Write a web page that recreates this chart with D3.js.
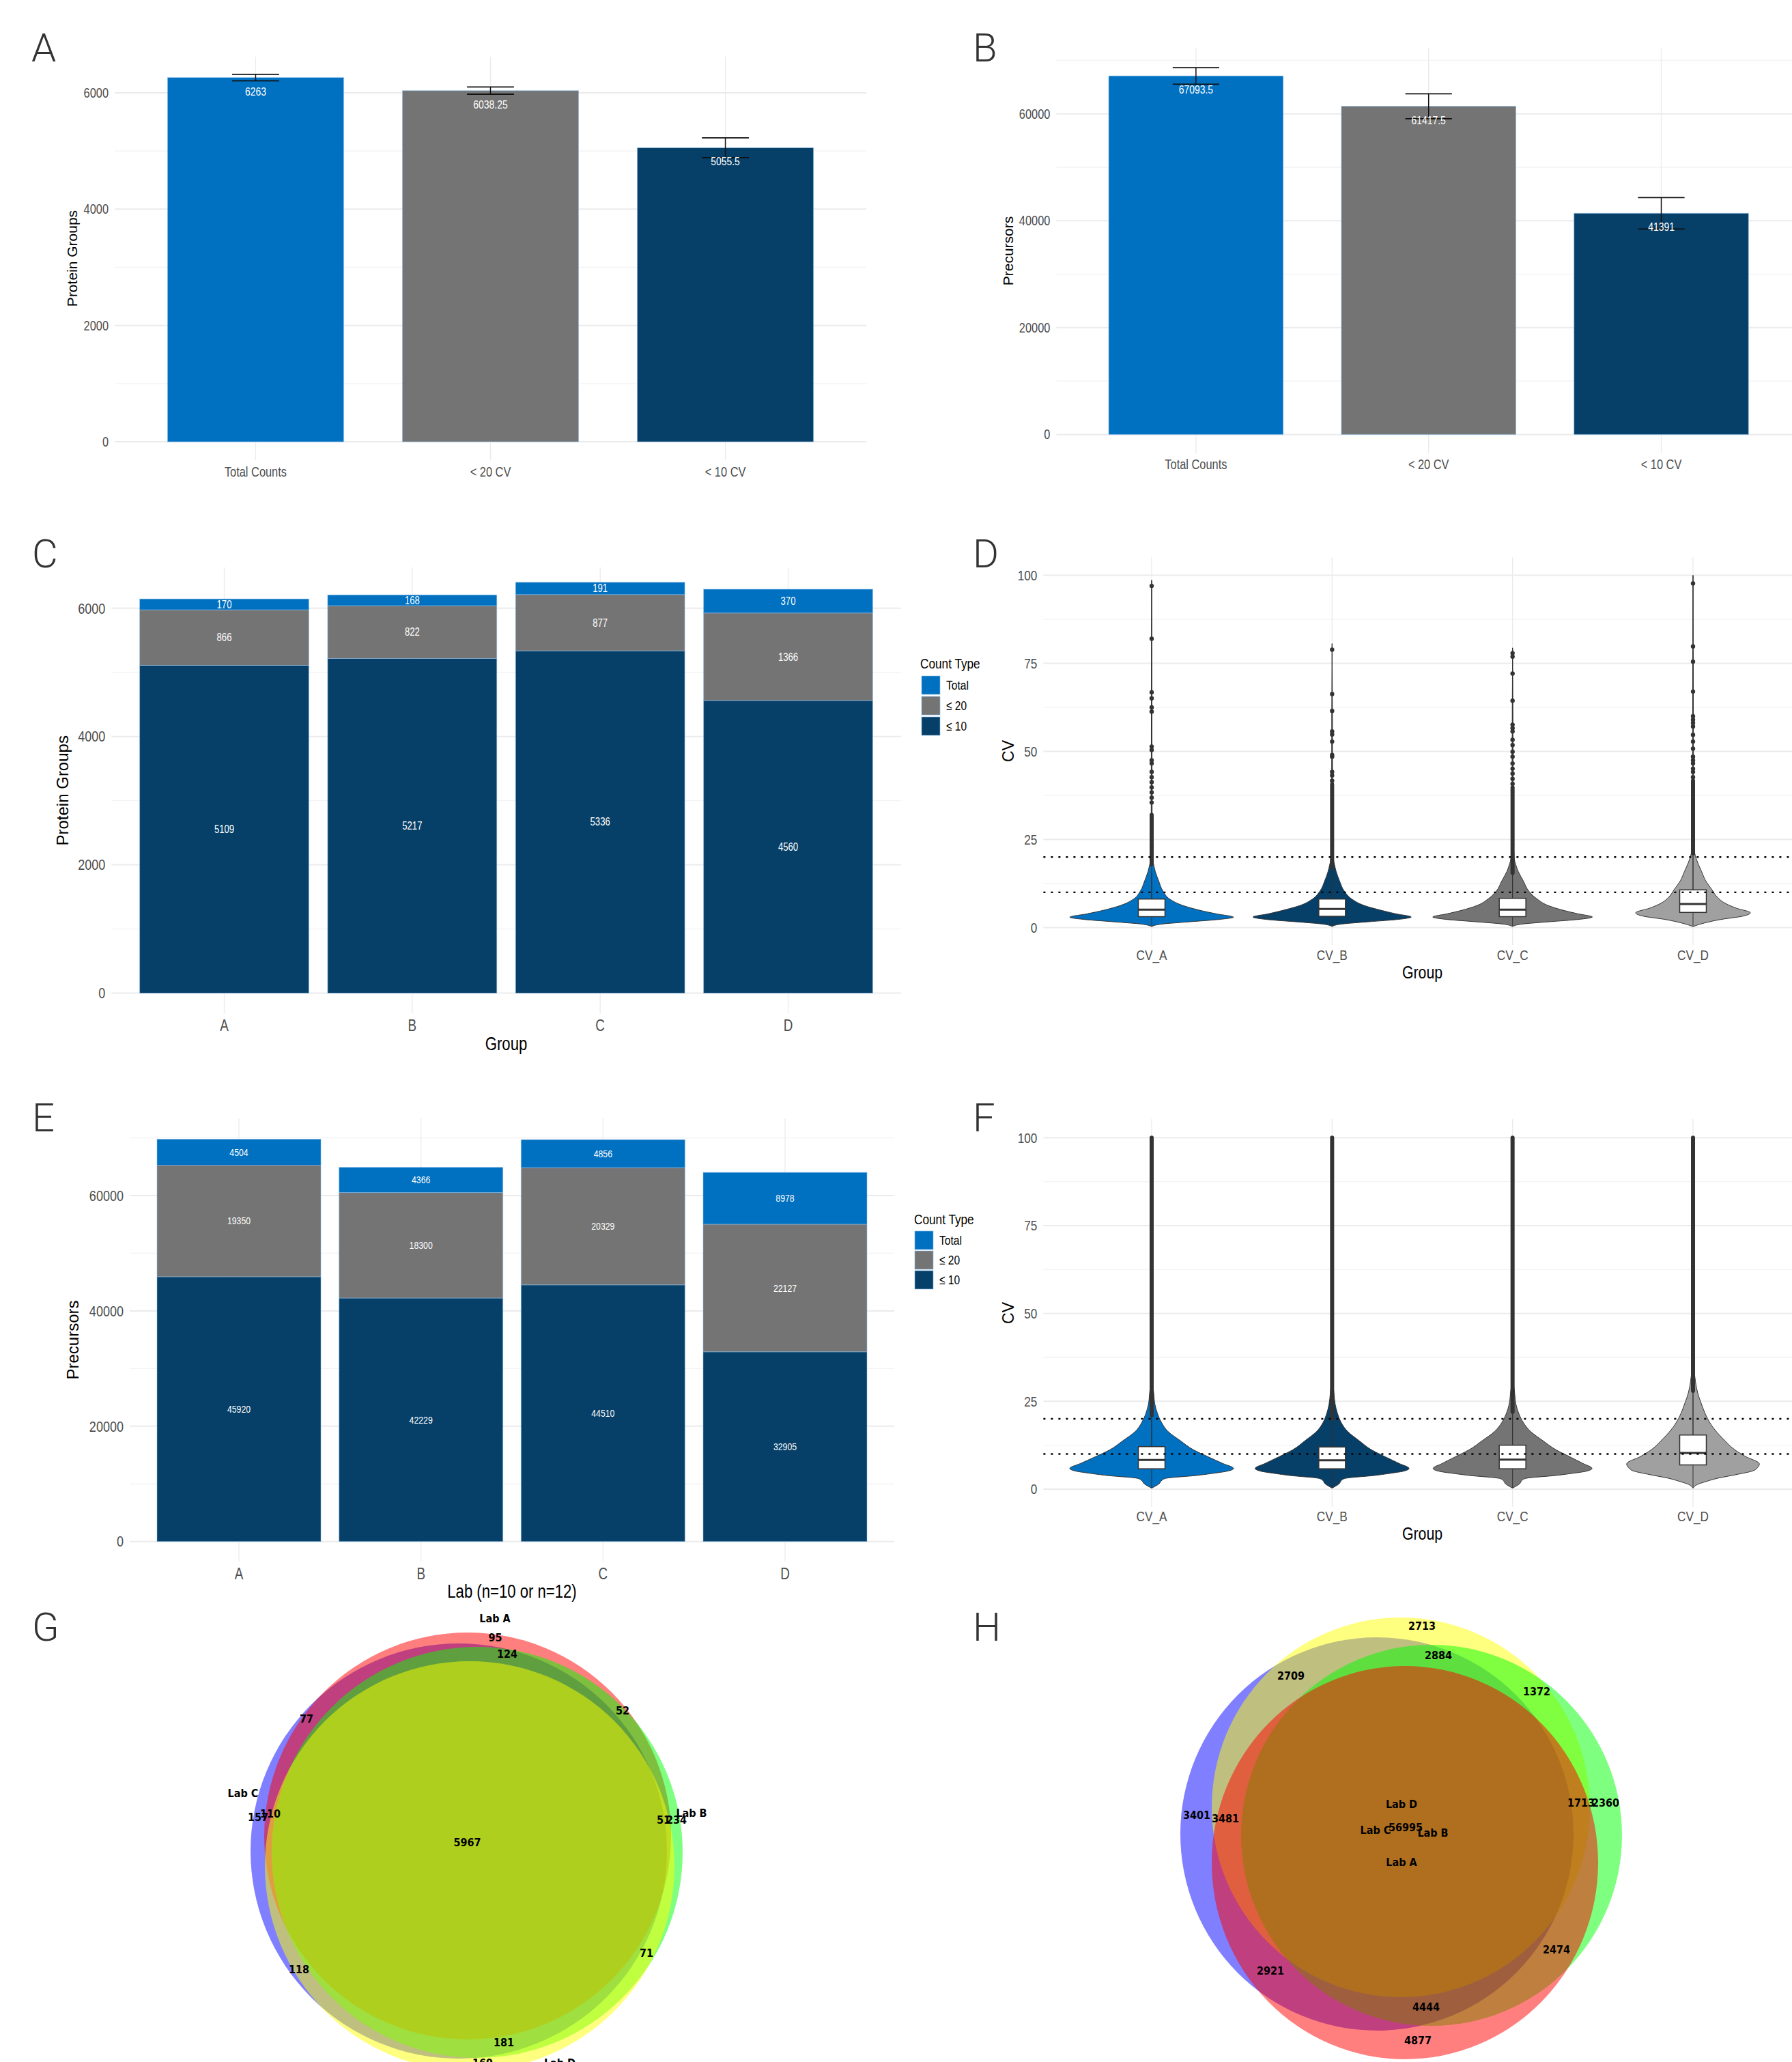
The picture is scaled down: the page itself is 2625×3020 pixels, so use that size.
<!DOCTYPE html>
<html>
<head>
<meta charset="utf-8">
<script src="https://cdn.jsdelivr.net/npm/d3@7"></script>
<style>
  body { margin: 0; background: #fff; }
</style>
</head>
<body>
<div id="chart"></div>
<script>
// ---- data ----
const barCats = ["Total Counts", "< 20 CV", "< 10 CV"];
const protMeans = [6263, 6038.25, 5055.5];
const protErr = [55, 62, 170];
const precMeans = [67093.5, 61417.5, 41391];
const precErr = [1550, 2340, 2930];

const labs = ["A", "B", "C", "D"];
const countTypes = ["Total", "≤ 20", "≤ 10"];
const protLe10 = [5109, 5217, 5336, 4560];
const protLe20 = [866, 822, 877, 1366];
const protTotal = [170, 168, 191, 370];
const precLe10 = [45920, 42229, 44510, 32905];
const precLe20 = [19350, 18300, 20329, 22127];
const precTotal = [4504, 4366, 4856, 8978];

const cvGroups = ["CV_A", "CV_B", "CV_C", "CV_D"];
// violin outlines: [cv, relative half width]
const protViolin = [
  [[0.3,0],[1.0,0.13],[1.65,0.47],[2.3,0.82],[2.94,1.0],[3.9,0.79],[4.9,0.59],[6.2,0.39],[8.1,0.22],[10.3,0.14],[13.3,0.085],[15.9,0.045],[17.8,0.025],[19.7,0.012],[30,0.006],[60,0.004],[98.6,0]],
  [[0.3,0],[1.0,0.12],[1.65,0.45],[2.3,0.8],[3.0,0.967],[3.9,0.78],[4.9,0.6],[6.2,0.4],[8.1,0.24],[10.3,0.15],[13.3,0.09],[15.9,0.05],[17.8,0.03],[19.7,0.015],[30,0.006],[60,0.004],[80.6,0]],
  [[0.3,0],[1.0,0.12],[1.65,0.45],[2.3,0.8],[3.0,0.975],[3.9,0.8],[4.9,0.62],[6.2,0.44],[8.1,0.3],[10.3,0.2],[13.3,0.13],[15.9,0.07],[17.8,0.04],[19.7,0.02],[30,0.007],[60,0.004],[79.4,0]],
  [[0.3,0],[1.3,0.14],[2.3,0.34],[3.2,0.6],[4.2,0.70],[5.5,0.53],[6.8,0.4],[8.8,0.29],[10.8,0.23],[13.3,0.154],[15.9,0.105],[18.5,0.056],[20.4,0.028],[22.3,0.014],[35,0.006],[70,0.004],[100,0]]
];
// box: [q1, median, q3, upper whisker]
const protBox = [[3.1,5.1,8.1,15.6],[3.2,5.3,8.1,15.5],[3.1,5.1,8.3,16.1],[4.3,6.7,10.7,20.3]];
const protDense = [[18,32],[17,40.7],[15.5,39.8],[21,41.7]];
const protOutliers = [
  [97.0,82.0,66.8,65.1,62.5,61.3,51.4,50.4,47.5,46.6,44.2,42.7,41.3,39.8,38.4,36.9,35.5],
  [78.9,66.3,61.5,55.7,54.8,52.8,49.0,48.5,44.2,43.2,41.7],
  [77.9,76.9,72.1,64.4,57.6,56.6,55.7,53.3,51.8,49.9,48.5,46.6,45.1,43.7,42.2,40.8],
  [97.7,79.8,75.5,67,60,59,58.1,57.1,54.7,52.8,50.8,48.5,47.5,46.6,45.1,44.2,42.7]
];

const precViolin = [
  [[0.3,0],[1.5,0.09],[2.6,0.13],[3.1,0.18],[3.9,0.55],[4.4,0.72],[5.1,0.92],[5.9,1.0],[7.3,0.87],[9.2,0.69],[11.2,0.51],[13.8,0.35],[16.4,0.2],[19,0.12],[21.6,0.07],[24.1,0.04],[27.4,0.025],[30.6,0.012],[50,0.005],[100,0]],
  [[0.3,0],[1.5,0.085],[2.6,0.12],[3.1,0.17],[3.9,0.52],[4.4,0.68],[5.1,0.87],[5.9,0.94],[7.3,0.82],[9.2,0.65],[11.2,0.48],[13.8,0.33],[16.4,0.19],[19,0.11],[21.6,0.065],[24.1,0.038],[27.4,0.022],[30.6,0.011],[50,0.005],[100,0]],
  [[0.3,0],[1.5,0.085],[2.6,0.12],[3.1,0.17],[3.9,0.53],[4.4,0.7],[5.1,0.9],[5.9,0.97],[7.3,0.86],[9.2,0.7],[11.2,0.53],[13.8,0.37],[16.4,0.22],[19,0.13],[21.6,0.075],[24.1,0.042],[27.4,0.025],[30.6,0.012],[50,0.005],[100,0]],
  [[0.3,0],[1.5,0.07],[2.1,0.15],[3.1,0.3],[4.1,0.52],[5.4,0.75],[7.2,0.81],[9.3,0.64],[11.2,0.51],[14.5,0.36],[17.7,0.24],[20.9,0.16],[24.1,0.105],[27.4,0.057],[30.6,0.03],[33.9,0.016],[45,0.006],[100,0]]
];
const precBox = [[5.8,8.3,12.1,21.5],[5.8,8.2,12.0,21.3],[5.8,8.4,12.5,22.5],[6.9,10.3,15.4,28.1]];
const precDense = [[21,100],[20,100],[22,100],[28,100]];
const precOutliers = [[],[],[],[]];
const cvCutoffs = [10, 20];

// Venn region counts
const vennGText = ["Lab A","95","124","52","77","Lab C","110","157","Lab B","51","234","5967","71","118","181","169","Lab D"];
const vennHText = ["2713","2884","2709","1372","Lab D","1713","2360","3401","3481","56995","Lab C","Lab B","Lab A","2474","2921","4444","4877"];

// ---- layout ----
const W = 2625, H = 3020;
const SANS = "'Liberation Sans', Arial, sans-serif";
const VENN = "'DejaVu Sans Condensed', 'DejaVu Sans', sans-serif";
const NS = 0.82; // horizontal squeeze for the narrow face
const C_BLUE = "#0070c0", C_GRAY = "#747474", C_NAVY = "#063f68", C_LGRAY = "#a0a0a0";
const typeColor = {"Total": C_BLUE, "≤ 20": C_GRAY, "≤ 10": C_NAVY};
const tr = (x, y) => `translate(${x},${y}) scale(${NS},1)`;

const svg = d3.select("#chart").append("svg")
  .attr("width", W).attr("height", H);
svg.append("rect").attr("width", W).attr("height", H).attr("fill", "#fff");

function makePanel(o) {
  o.x = d3.scalePoint().domain(o.cats).range([o.left, o.right]).padding(0.6);
  o.y = d3.scaleLinear().domain(o.yDomain).range(o.yRange);
  const g = svg.append("g");
  o.g = g;
  g.selectAll("line.minor").data(o.minor).join("line").attr("class", "minor")
    .attr("x1", o.left).attr("x2", o.right)
    .attr("y1", d => o.y(d)).attr("y2", d => o.y(d))
    .attr("stroke", "#f3f3f3").attr("stroke-width", 1.3);
  g.selectAll("line.major").data(o.major).join("line").attr("class", "major")
    .attr("x1", o.left).attr("x2", o.right)
    .attr("y1", d => o.y(d)).attr("y2", d => o.y(d))
    .attr("stroke", "#ebebeb").attr("stroke-width", 2);
  g.selectAll("line.vert").data(o.cats).join("line").attr("class", "vert")
    .attr("x1", d => o.x(d)).attr("x2", d => o.x(d))
    .attr("y1", o.top).attr("y2", o.bottom)
    .attr("stroke", "#ebebeb").attr("stroke-width", 1.3);
  g.selectAll("text.ytick").data(o.major).join("text").attr("class", "ytick")
    .attr("transform", d => tr(o.left - 9, o.y(d))).attr("dy", "0.35em")
    .attr("text-anchor", "end").attr("font-family", SANS)
    .attr("font-size", o.tickSize).attr("fill", "#4d4d4d").text(d => d);
  g.selectAll("text.xtick").data(o.cats).join("text").attr("class", "xtick")
    .attr("transform", d => tr(o.x(d), o.xLabY)).attr("dy", "0.35em")
    .attr("text-anchor", "middle").attr("font-family", SANS)
    .attr("font-size", o.xLabSize).attr("fill", "#4d4d4d").text(d => d);
  if (o.xTitle) {
    g.append("text").attr("transform", tr((o.left + o.right) / 2, o.xTitleY)).attr("dy", "0.35em")
      .attr("text-anchor", "middle").attr("font-family", SANS)
      .attr("font-size", o.xTitleSize).attr("fill", "#000").text(o.xTitle);
  }
  g.append("text")
    .attr("transform", `translate(${o.yTitleX},${(o.top + o.bottom) / 2}) rotate(-90)`)
    .attr("dy", "0.35em").attr("text-anchor", "middle")
    .attr("font-family", SANS).attr("font-size", o.yTitleSize).attr("fill", "#000")
    .text(o.yTitle);
  return o;
}

function panelLetter(t, x, y) {
  svg.append("text").attr("x", x).attr("y", y)
    .attr("font-family", "Roboto, 'Open Sans', sans-serif").attr("font-weight", 300)
    .attr("font-size", 58).attr("fill", "#333").text(t);
}

function barsWithError(p, means, errs) {
  const step = p.x.step();
  const bw = step * 0.75;
  const colors = [C_BLUE, C_GRAY, C_NAVY];
  const g = p.g.append("g");
  g.selectAll("rect").data(means).join("rect")
    .attr("x", (d, i) => p.x(p.cats[i]) - bw / 2).attr("width", bw)
    .attr("y", d => p.y(d)).attr("height", d => p.y(0) - p.y(d))
    .attr("fill", (d, i) => colors[i])
    .attr("stroke", "rgba(140,190,235,0.6)").attr("stroke-width", 1);
  const cap = step * 0.2;
  means.forEach((m, i) => {
    const cx = p.x(p.cats[i]);
    const lo = p.y(m - errs[i]), hi = p.y(m + errs[i]);
    g.append("line").attr("x1", cx).attr("x2", cx).attr("y1", lo).attr("y2", hi)
      .attr("stroke", "#111").attr("stroke-width", 1.5);
    [lo, hi].forEach(yy => g.append("line").attr("x1", cx - cap / 2).attr("x2", cx + cap / 2)
      .attr("y1", yy).attr("y2", yy).attr("stroke", "#111").attr("stroke-width", 1.8));
    g.append("text").attr("transform", tr(cx, p.y(m) + 20)).attr("dy", "0.35em")
      .attr("text-anchor", "middle").attr("font-family", SANS).attr("font-size", 17)
      .attr("fill", "#fff").text(m);
  });
}

function stackedBars(p, le10, le20, total, labelSize) {
  const rows = labs.map((l, i) => ({lab: l, "≤ 10": le10[i], "≤ 20": le20[i], "Total": total[i]}));
  const series = d3.stack().keys(["≤ 10", "≤ 20", "Total"])(rows);
  const bw = p.x.step() * 0.9;
  const g = p.g.append("g");
  series.forEach(s => {
    g.selectAll(null).data(s).join("rect")
      .attr("x", d => p.x(d.data.lab) - bw / 2).attr("width", bw)
      .attr("y", d => p.y(d[1])).attr("height", d => p.y(d[0]) - p.y(d[1]))
      .attr("fill", typeColor[s.key])
      .attr("stroke", "rgba(140,190,235,0.55)").attr("stroke-width", 1);
  });
  series.forEach(s => {
    g.selectAll(null).data(s).join("text")
      .attr("transform", d => tr(p.x(d.data.lab), p.y((d[0] + d[1]) / 2))).attr("dy", "0.35em")
      .attr("text-anchor", "middle").attr("font-family", SANS).attr("font-size", labelSize)
      .attr("fill", "#fff").text(d => d.data[s.key]);
  });
}

function legend(x, y, keyX, keyTops, labelX) {
  const g = svg.append("g");
  g.append("text").attr("transform", tr(x, y)).attr("dy", "0.35em")
    .attr("font-family", SANS).attr("font-size", 21).attr("fill", "#000").text("Count Type");
  g.selectAll("rect").data(countTypes).join("rect")
    .attr("x", keyX).attr("y", (d, i) => keyTops[i]).attr("width", 27).attr("height", 27)
    .attr("fill", d => typeColor[d]).attr("stroke", "rgba(140,190,235,0.6)").attr("stroke-width", 1);
  g.selectAll("text.lab").data(countTypes).join("text").attr("class", "lab")
    .attr("transform", (d, i) => tr(labelX, keyTops[i] + 13.5)).attr("dy", "0.35em")
    .attr("font-family", SANS).attr("font-size", 19).attr("fill", "#000").text(d => d);
}

function violins(p, profiles, boxes, dense, outliers) {
  const colors = [C_BLUE, C_NAVY, C_GRAY, C_LGRAY];
  const hw = 120;
  const g = p.g.append("g");
  cvGroups.forEach((name, i) => {
    const cx = p.x(name);
    const area = d3.area().curve(d3.curveMonotoneY)
      .y(d => p.y(d[0])).x0(d => cx - d[1] * hw).x1(d => cx + d[1] * hw);
    g.append("path").datum(profiles[i]).attr("d", area)
      .attr("fill", colors[i]).attr("stroke", "#333").attr("stroke-width", 1);
    const top = profiles[i][profiles[i].length - 1][0];
    g.append("line").attr("x1", cx).attr("x2", cx).attr("y1", p.y(profiles[i][0][0])).attr("y2", p.y(top))
      .attr("stroke", "#333").attr("stroke-width", 1);
    const [q1, med, q3, wh] = boxes[i];
    const bh = 19.5;
    g.append("rect").attr("x", cx - bh).attr("width", 2 * bh)
      .attr("y", p.y(q3)).attr("height", p.y(q1) - p.y(q3))
      .attr("fill", "#fff").attr("stroke", "#333").attr("stroke-width", 1.5);
    g.append("line").attr("x1", cx - bh).attr("x2", cx + bh).attr("y1", p.y(med)).attr("y2", p.y(med))
      .attr("stroke", "#333").attr("stroke-width", 3);
    g.append("line").attr("x1", cx).attr("x2", cx).attr("y1", p.y(q3)).attr("y2", p.y(wh))
      .attr("stroke", "#333").attr("stroke-width", 1);
    g.append("line").attr("x1", cx).attr("x2", cx).attr("y1", p.y(dense[i][0])).attr("y2", p.y(dense[i][1]))
      .attr("stroke", "#333").attr("stroke-width", 6).attr("stroke-linecap", "round");
    g.selectAll(null).data(outliers[i]).join("circle")
      .attr("cx", cx).attr("cy", d => p.y(d)).attr("r", 3.2).attr("fill", "#333");
  });
  g.selectAll("line.cut").data(cvCutoffs).join("line").attr("class", "cut")
    .attr("x1", p.left).attr("x2", p.right).attr("y1", d => p.y(d)).attr("y2", d => p.y(d))
    .attr("stroke", "#000").attr("stroke-width", 2.4).attr("stroke-dasharray", "3,8");
}

// ---- panel A ----
const pA = makePanel({cats: barCats, left: 168, right: 1269, top: 83, bottom: 674,
  yDomain: [0, 6000], yRange: [647, 136], major: [0, 2000, 4000, 6000], minor: [1000, 3000, 5000],
  tickSize: 20, xLabY: 691, xLabSize: 20, yTitle: "Protein Groups", yTitleX: 106, yTitleSize: 21});
barsWithError(pA, protMeans, protErr);
panelLetter("A", 46, 90);

// ---- panel B ----
const pB = makePanel({cats: barCats, left: 1547.4, right: 2638, top: 71, bottom: 664,
  yDomain: [0, 60000], yRange: [636.4, 166.7], major: [0, 20000, 40000, 60000], minor: [10000, 30000, 50000, 70000],
  tickSize: 20, xLabY: 680, xLabSize: 20, yTitle: "Precursors", yTitleX: 1477, yTitleSize: 21});
barsWithError(pB, precMeans, precErr);
panelLetter("B", 1425, 90);

// ---- panel C ----
const pC = makePanel({cats: labs, left: 163.3, right: 1319.7, top: 831, bottom: 1484.6,
  yDomain: [0, 6000], yRange: [1454.5, 890.8], major: [0, 2000, 4000, 6000], minor: [1000, 3000, 5000],
  tickSize: 22, xLabY: 1502, xLabSize: 23, xTitle: "Group", xTitleY: 1529, xTitleSize: 27,
  yTitle: "Protein Groups", yTitleX: 92, yTitleSize: 24});
stackedBars(pC, protLe10, protLe20, protTotal, 16);
legend(1348, 971.5, 1350, [990, 1020, 1050], 1386);
panelLetter("C", 47, 831);

// ---- panel D ----
const pD = makePanel({cats: cvGroups, left: 1528.4, right: 2638.6, top: 816, bottom: 1384,
  yDomain: [0, 100], yRange: [1358.5, 842.6], major: [0, 25, 50, 75, 100], minor: [12.5, 37.5, 62.5, 87.5],
  tickSize: 21, xLabY: 1399, xLabSize: 21, xTitle: "Group", xTitleY: 1424, xTitleSize: 26,
  yTitle: "CV", yTitleX: 1477, yTitleSize: 23});
violins(pD, protViolin, protBox, protDense, protOutliers);
panelLetter("D", 1425, 831);

// ---- panel E ----
const pE = makePanel({cats: labs, left: 190, right: 1310, top: 1638, bottom: 2287,
  yDomain: [0, 60000], yRange: [2257.7, 1751], major: [0, 20000, 40000, 60000], minor: [10000, 30000, 50000, 70000],
  tickSize: 22, xLabY: 2304.7, xLabSize: 23, xTitle: "Lab (n=10 or n=12)", xTitleY: 2331, xTitleSize: 27,
  yTitle: "Precursors", yTitleX: 107, yTitleSize: 24});
stackedBars(pE, precLe10, precLe20, precTotal, 15);
legend(1339, 1785.5, 1340, [1803, 1832, 1861], 1376);
panelLetter("E", 47, 1657);

// ---- panel F ----
const pF = makePanel({cats: cvGroups, left: 1528.4, right: 2638.6, top: 1639, bottom: 2207,
  yDomain: [0, 100], yRange: [2181, 1666.3], major: [0, 25, 50, 75, 100], minor: [12.5, 37.5, 62.5, 87.5],
  tickSize: 21, xLabY: 2221, xLabSize: 21, xTitle: "Group", xTitleY: 2245.5, xTitleSize: 26,
  yTitle: "CV", yTitleX: 1477, yTitleSize: 23});
violins(pF, precViolin, precBox, precDense, precOutliers);
panelLetter("F", 1425, 1657);

// ---- Venn G and H ----
const vennColors = {"Lab A": "#ff0000", "Lab B": "#00ff00", "Lab C": "#0000ff", "Lab D": "#ffff00"};
const vennGShapes = [
  {set: "Lab C", cx: 672, cy: 2711, rx: 305, ry: 304},
  {set: "Lab A", cx: 685, cy: 2689, rx: 298, ry: 298},
  {set: "Lab B", cx: 699, cy: 2713, rx: 301, ry: 301},
  {set: "Lab D", cx: 688, cy: 2733, rx: 300, ry: 300}
];
const vennGPos = [[725,2370],[725.5,2398],[743,2422],[912,2505],[449,2517],[356,2626],[396,2656],[378,2661.5],
  [1013,2655],[972,2665],[991,2665],[684.5,2698.6],[947,2860],[438,2884],[738,2991.5],[707,3021],[820,3021]];
const vennHShapes = [
  {set: "Lab C", cx: 2017, cy: 2686, rx: 288, ry: 288},
  {set: "Lab D", cx: 2052, cy: 2647, rx: 277, ry: 278},
  {set: "Lab B", cx: 2097, cy: 2688, rx: 279, ry: 279},
  {set: "Lab A", cx: 2058, cy: 2728, rx: 283, ry: 288}
];
const vennHPos = [[2083,2381.6],[2107,2424],[1891,2454],[2251,2477.6],[2053,2642.8],[2316,2640],[2352,2640],
  [1753,2658],[1795,2663.7],[2059,2676],[2015,2680.7],[2099,2684],[2053,2727.6],[2280,2855.7],[1861,2886],
  [2089,2939.6],[2077,2988]];

function venn(shapes, texts, pos) {
  const g = svg.append("g");
  g.selectAll("ellipse").data(shapes).join("ellipse")
    .attr("cx", d => d.cx).attr("cy", d => d.cy).attr("rx", d => d.rx).attr("ry", d => d.ry)
    .attr("fill", d => vennColors[d.set]).attr("fill-opacity", 0.5);
  g.selectAll("text").data(texts).join("text")
    .attr("x", (d, i) => pos[i][0]).attr("y", (d, i) => pos[i][1]).attr("dy", "0.35em")
    .attr("text-anchor", "middle").attr("font-family", VENN).attr("font-stretch", "condensed")
    .attr("font-weight", "bold").attr("font-size", 16).attr("fill", "#000").text(d => d);
}
venn(vennGShapes, vennGText, vennGPos);
venn(vennHShapes, vennHText, vennHPos);
panelLetter("G", 47, 2403);
panelLetter("H", 1425, 2403);
</script>
</body>
</html>
